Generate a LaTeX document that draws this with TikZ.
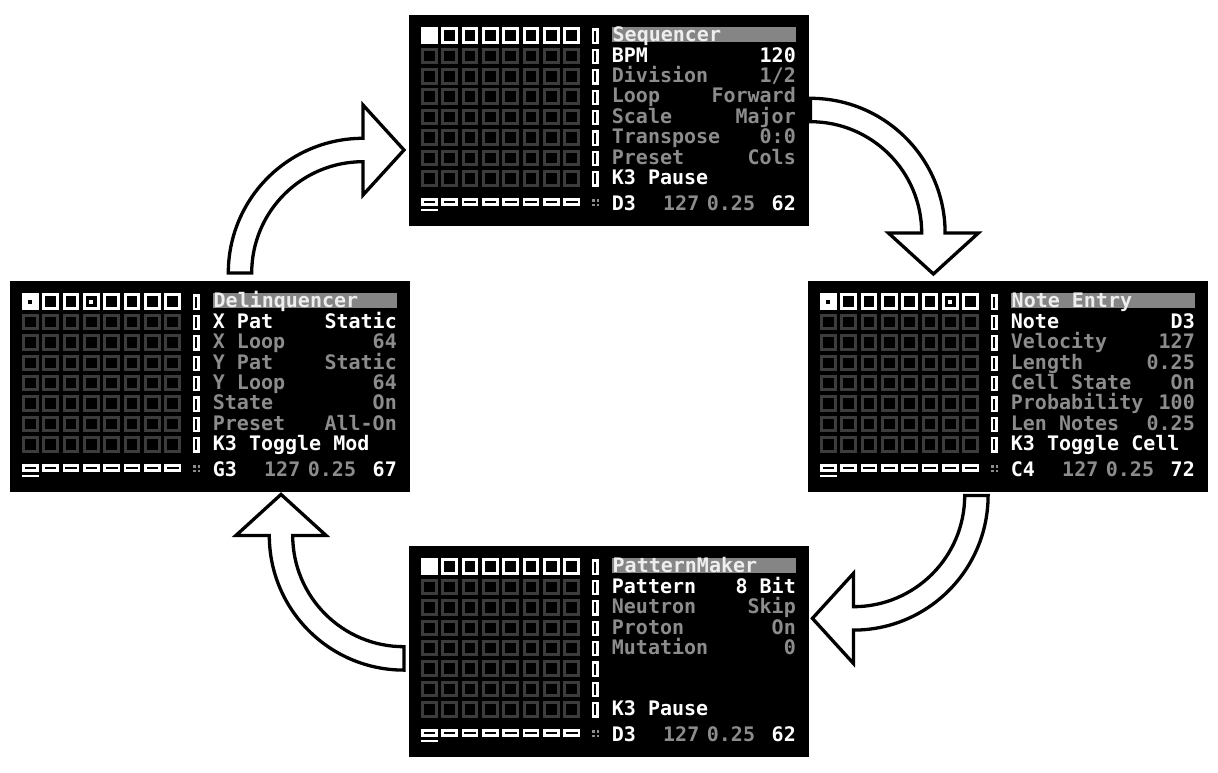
\documentclass[tikz,border=0pt]{standalone}
\usepackage{fontspec}
\setmonofont{DejaVu Sans Mono}
\usetikzlibrary{calc}

\definecolor{scrgray}{HTML}{8C8C8C}
\definecolor{cellgray}{HTML}{3C3C3C}
\definecolor{barfill}{HTML}{858585}
\definecolor{titletext}{HTML}{EEEEEE}

\tikzset{
    screen/.style={rectangle, fill=black, inner sep=0pt, minimum width=400pt, minimum height=211pt, anchor=north west},
    cellon/.style={draw=white, line width=3pt},
    celldim/.style={draw=cellgray, line width=3pt},
    rowtext/.style={inner sep=0pt, font=\ttfamily\bfseries\fontsize{20}{20}\selectfont},
    flowarrow/.style={draw=black, fill=white, line width=3.3pt, line join=miter}
}

% menu on the right half of a screen: #1 screen, #2 title, #3 rows
\newcommand{\screenmenu}[3]{%
    \fill[barfill] ($(#1.north west)+(202.7,12.3)$) rectangle ($(#1.north west)+(387,26.7)$);
    \node[rowtext, text=titletext, anchor=base west] (#1-title) at ($(#1.north west)+(203.5,26.8)$) {#2};
    \foreach \r/\lab/\val/\col in {#3} {
        \node[rowtext, text=\col, anchor=base west] (#1-l\r) at ($(#1.north west)+(202.7,26.8+20.4*\r)$) {\lab};
        \node[rowtext, text=\col, anchor=base east] (#1-v\r) at ($(#1.north west)+(387,26.8+20.4*\r)$) {\val};
    }
}

% status line at the bottom: #1 screen, #2 note, #3 number
\newcommand{\screennote}[3]{%
    \node[rowtext, text=white, anchor=base west] (#1-note) at ($(#1.north west)+(202.7,195)$) {#2};
    \node[rowtext, text=scrgray, anchor=base west] (#1-vel) at ($(#1.north west)+(254,195)$) {127};
    \node[rowtext, text=scrgray, anchor=base west] (#1-len) at ($(#1.north west)+(297.7,195)$) {0.25};
    \node[rowtext, text=white, anchor=base east] (#1-num) at ($(#1.north west)+(387,195)$) {#3};
}

% curved block arrow: #1 centre, #2 start angle
\newcommand{\flowarrow}[2]{%
    \draw[flowarrow] ([shift={(#2:134.7)}]#1) arc[start angle=#2, delta angle=90, radius=134.7]
        -- ([shift={(#2+90:168)}]#1) -- ([shift={(#2+108.43:129.65)}]#1)
        -- ([shift={(#2+90:78)}]#1) -- ([shift={(#2+90:111.3)}]#1)
        arc[start angle=#2+90, delta angle=-90, radius=111.3] -- cycle;
}

\begin{document}
\begin{tikzpicture}[x=1pt, y=-1pt]
    \useasboundingbox (0,0) rectangle (1218,773);

    % the four screens
    \node[screen] (seq) at (409,15) {};
    \node[screen] (delinq) at (10,281) {};
    \node[screen] (notes) at (808,281) {};
    \node[screen] (pattern) at (409,546) {};

    % grid, meters and step row
    \foreach \s in {seq,delinq,notes,pattern} {
        \begin{scope}[shift={(\s.north west)}]
            \foreach \c in {0,...,7} {
                \draw[cellon] (12+20.35*\c+1.5,13.8) rectangle ++(13.5,13.5);
                \foreach \r in {1,...,7}
                    \draw[celldim] (12+20.35*\c+1.5,12.3+20.4*\r+1.5) rectangle ++(13.5,13.5);
                \draw[white, line width=2.6pt] (12+20.35*\c+1.3,184.3) rectangle ++(14.1,5.4);
            }
            \foreach \r in {0,...,7}
                \draw[white, line width=2.3pt] (183.65,12.3+20.4*\r+2.2) rectangle ++(4.7,13.2);
            \fill[white] (12,193.6) rectangle ++(16.7,2.6);
            \foreach \dx/\dy in {0/0,4.5/0,0/4.5,4.5/4.5}
                \fill[scrgray] (183.3+\dx,184.3+\dy) rectangle ++(2.2,2.2);
            \fill[white] (12,12.3) rectangle ++(16.5,16.5);
        \end{scope}
    }

    % cursors in the first row
    \fill[black] ($(delinq.north west)+(18.25,18.55)$) rectangle ++(4,4);
    \fill[white] ($(delinq.north west)+(79.3,18.55)$) rectangle ++(4,4);
    \fill[black] ($(notes.north west)+(18.25,18.55)$) rectangle ++(4,4);
    \fill[white] ($(notes.north west)+(140.35,18.55)$) rectangle ++(4,4);

    % menus
    \screenmenu{seq}{Sequencer}{1/BPM/120/white, 2/Division/{1/2}/scrgray, 3/Loop/Forward/scrgray,
        4/Scale/Major/scrgray, 5/Transpose/0:0/scrgray, 6/Preset/Cols/scrgray, 7/K3 Pause/{}/white}
    \screenmenu{delinq}{Delinquencer}{1/X Pat/Static/white, 2/X Loop/64/scrgray, 3/Y Pat/Static/scrgray,
        4/Y Loop/64/scrgray, 5/State/On/scrgray, 6/Preset/All-On/scrgray, 7/K3 Toggle Mod/{}/white}
    \screenmenu{notes}{Note Entry}{1/Note/D3/white, 2/Velocity/127/scrgray, 3/Length/0.25/scrgray,
        4/Cell State/On/scrgray, 5/Probability/100/scrgray, 6/Len Notes/0.25/scrgray, 7/K3 Toggle Cell/{}/white}
    \screenmenu{pattern}{PatternMaker}{1/Pattern/8 Bit/white, 2/Neutron/Skip/scrgray, 3/Proton/On/scrgray,
        4/Mutation/0/scrgray, 7/K3 Pause/{}/white}

    \screennote{seq}{D3}{62}
    \screennote{delinq}{G3}{67}
    \screennote{notes}{C4}{72}
    \screennote{pattern}{D3}{62}

    % arrows between the screens
    \coordinate (c1) at ($(seq.west |- delinq.north)+(-46,-8)$);
    \coordinate (c2) at ($(seq.east |- notes.north)+(1,-48)$);
    \coordinate (c3) at ($(pattern.east |- notes.south)+(44,3)$);
    \coordinate (c4) at ($(pattern.west |- delinq.south)+(-5,43)$);
    \flowarrow{c1}{180}
    \flowarrow{c2}{270}
    \flowarrow{c3}{0}
    \flowarrow{c4}{90}

\end{tikzpicture}
\end{document}
